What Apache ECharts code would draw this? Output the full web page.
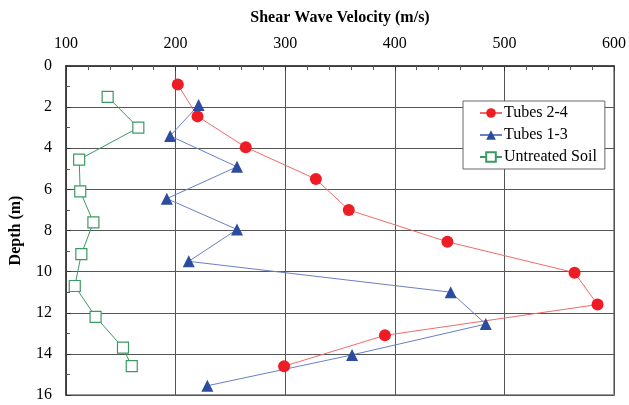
<!DOCTYPE html>
<html><head><meta charset="utf-8">
<script src="https://cdn.jsdelivr.net/npm/echarts@6/dist/echarts.min.js"></script>
<style>html,body{margin:0;padding:0;background:#fff}#c{width:629px;height:405px}</style>
</head><body><div id="c"></div>
<script>
const xTitle = "Shear Wave Velocity (m/s)";
const yTitle = "Depth (m)";
const seriesNames = ["Tubes 2-4", "Tubes 1-3", "Untreated Soil"];
// [velocity m/s, depth m]
const tubes24V = [202, 220, 264, 328, 358, 448, 564, 585, 391, 299];
const tubes24D = [0.9, 2.45, 3.95, 5.5, 7.0, 8.55, 10.05, 11.6, 13.1, 14.6];
const tubes13V = [221, 195, 256, 192, 256, 212, 451, 483, 361, 229];
const tubes13D = [1.9, 3.4, 4.9, 6.45, 7.95, 9.5, 11.0, 12.55, 14.05, 15.55];
const soilV = [138, 166, 112, 113, 125, 114, 108, 127, 152, 160];
const soilD = [1.5, 3.0, 4.55, 6.1, 7.6, 9.15, 10.7, 12.2, 13.7, 14.6];

const pair = (v, d) => v.map((x, i) => [x, d[i]]);
const font = "'Liberation Serif', 'Times New Roman', serif";

const chart = echarts.init(document.getElementById('c'));
chart.setOption({
  animation: false,
  backgroundColor: '#fff',
  grid: { left: 65, right: 13, top: 66, bottom: 10, show: true, borderColor: '#9a9a9a', borderWidth: 2 },
  xAxis: {
    type: 'value', position: 'top', min: 100, max: 600, interval: 100,
    name: xTitle, nameLocation: 'middle', nameGap: 40,
    nameTextStyle: { fontFamily: font, fontWeight: 'bold', fontSize: 16, color: '#000' },
    axisLine: { show: true, lineStyle: { color: '#333', width: 1.5 } },
    axisTick: { show: true, inside: true, length: 5, lineStyle: { color: '#333' } },
    minorTick: { show: true, splitNumber: 5, length: 4, lineStyle: { color: '#555' } },
    axisLabel: { fontFamily: font, fontSize: 16, color: '#000', margin: 14 },
    splitLine: { show: true, lineStyle: { color: '#555', width: 1 } }
  },
  yAxis: {
    type: 'value', inverse: true, min: 0, max: 16, interval: 2,
    name: yTitle, nameLocation: 'middle', nameGap: 42, nameRotate: 90,
    nameTextStyle: { fontFamily: font, fontWeight: 'bold', fontSize: 16, color: '#000' },
    axisLine: { show: true, lineStyle: { color: '#333', width: 1.5 } },
    axisTick: { show: true, inside: true, length: 5, lineStyle: { color: '#333' } },
    minorTick: { show: true, splitNumber: 2, length: 4, lineStyle: { color: '#555' } },
    axisLabel: { fontFamily: font, fontSize: 16, color: '#000', margin: 14 },
    splitLine: { show: true, lineStyle: { color: '#555', width: 1 } }
  },
  legend: {
    orient: 'vertical', left: 463, top: 101,
    backgroundColor: '#fff', borderColor: '#666', borderWidth: 1,
    padding: [4, 8, 4, 16], itemGap: 6, itemWidth: 22, itemHeight: 12,
    textStyle: { fontFamily: font, fontSize: 16, color: '#000', padding: [0, 0, 0, -3] },
    data: seriesNames
  },
  series: [
    { name: seriesNames[0], type: 'line', data: pair(tubes24V, tubes24D),
      symbol: 'circle', symbolSize: 12,
      itemStyle: { color: '#ee1c25' }, lineStyle: { color: '#f26a6a', width: 1 } },
    { name: seriesNames[1], type: 'line', data: pair(tubes13V, tubes13D),
      symbol: 'triangle', symbolSize: 12,
      itemStyle: { color: '#2b4c9f' }, lineStyle: { color: '#6a80c4', width: 1 } },
    { name: seriesNames[2], type: 'line', data: pair(soilV, soilD),
      symbol: 'rect', symbolSize: 11,
      itemStyle: { color: '#fff', borderColor: '#3a9a62', borderWidth: 1.2 },
      lineStyle: { color: '#3a9a62', width: 1 } }
  ]
});
</script></body></html>
